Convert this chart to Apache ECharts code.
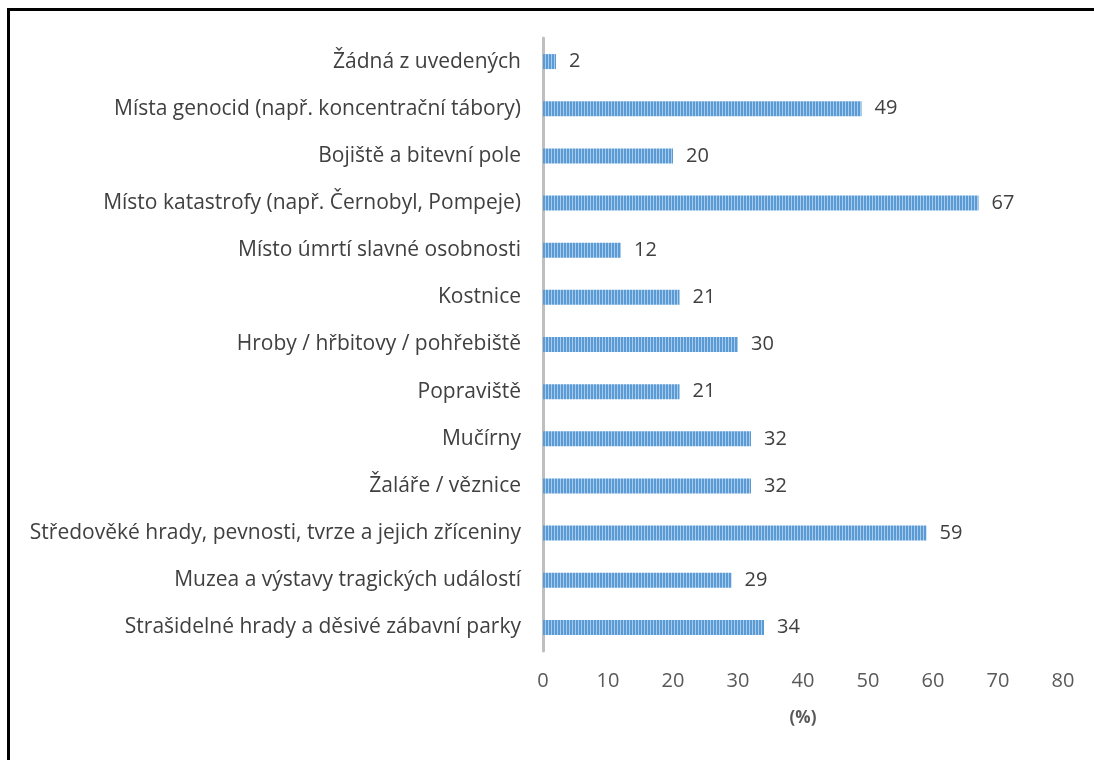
<!DOCTYPE html>
<html>
<head>
<meta charset="utf-8">
<script src="https://cdn.jsdelivr.net/npm/echarts@6/dist/echarts.min.js"></script>
<style>
  html, body { margin: 0; padding: 0; background: #fff; }
  #chart { width: 1094px; height: 760px; }
</style>
</head>
<body>
<div id="chart"></div>
<script>
// kategorie odshora dolů (v grafu se kreslí obráceně)
const categories = [
    'Žádná z uvedených',
    'Místa genocid (např. koncentrační tábory)',
    'Bojiště a bitevní pole',
    'Místo katastrofy (např. Černobyl, Pompeje)',
    'Místo úmrtí slavné osobnosti',
    'Kostnice',
    'Hroby / hřbitovy / pohřebiště',
    'Popraviště',
    'Mučírny',
    'Žaláře / věznice',
    'Středověké hrady, pevnosti, tvrze a jejich zříceniny',
    'Muzea a výstavy tragických událostí',
    'Strašidelné hrady a děsivé zábavní parky'
];
const values = [2, 49, 20, 67, 12, 21, 30, 21, 32, 32, 59, 29, 34];
const xTicks = [0, 10, 20, 30, 40, 50, 60, 70, 80];

// svislé proužky jako ve výplni Excelu
const pat = document.createElement('canvas');
pat.width = 3;
pat.height = 4;
const ctx = pat.getContext('2d');
ctx.fillStyle = '#5b9bd5';
ctx.fillRect(0, 0, 3, 4);
ctx.fillStyle = '#a9cbeb';
ctx.fillRect(2, 0, 1, 4);

const chart = echarts.init(document.getElementById('chart'));

const option = {
    animation: false,
    textStyle: { fontFamily: 'Open Sans, Noto Sans, sans-serif' },
    grid: { left: 543, right: 31, top: 38, bottom: 109 },
    graphic: [
        { type: 'rect', shape: { x: 7, y: 8, width: 1087, height: 3 }, style: { fill: '#000' } },
        { type: 'rect', shape: { x: 7, y: 8, width: 3, height: 752 }, style: { fill: '#000' } }
    ],
    xAxis: {
        type: 'value',
        min: xTicks[0],
        max: xTicks[xTicks.length - 1],
        interval: 10,
        name: '(%)',
        nameLocation: 'middle',
        nameGap: 59,
        nameTextStyle: { fontSize: 17, fontWeight: 'bold', color: '#595959' },
        axisLine: { show: false },
        axisTick: { show: false },
        splitLine: { show: false },
        axisLabel: { fontSize: 20, color: '#595959', margin: 20 }
    },
    yAxis: {
        type: 'category',
        data: categories.slice().reverse(),
        axisLine: { show: true, lineStyle: { color: '#bfbfbf', width: 3 } },
        axisTick: { show: false },
        axisLabel: { fontSize: 21, color: '#404040', margin: 22 }
    },
    series: [{
        type: 'bar',
        data: values.slice().reverse(),
        barWidth: 15,
        itemStyle: { color: { image: pat, repeat: 'repeat' } },
        label: {
            show: true,
            position: 'right',
            distance: 13,
            fontSize: 20,
            color: '#404040'
        }
    }]
};

chart.setOption(option);
</script>
</body>
</html>
